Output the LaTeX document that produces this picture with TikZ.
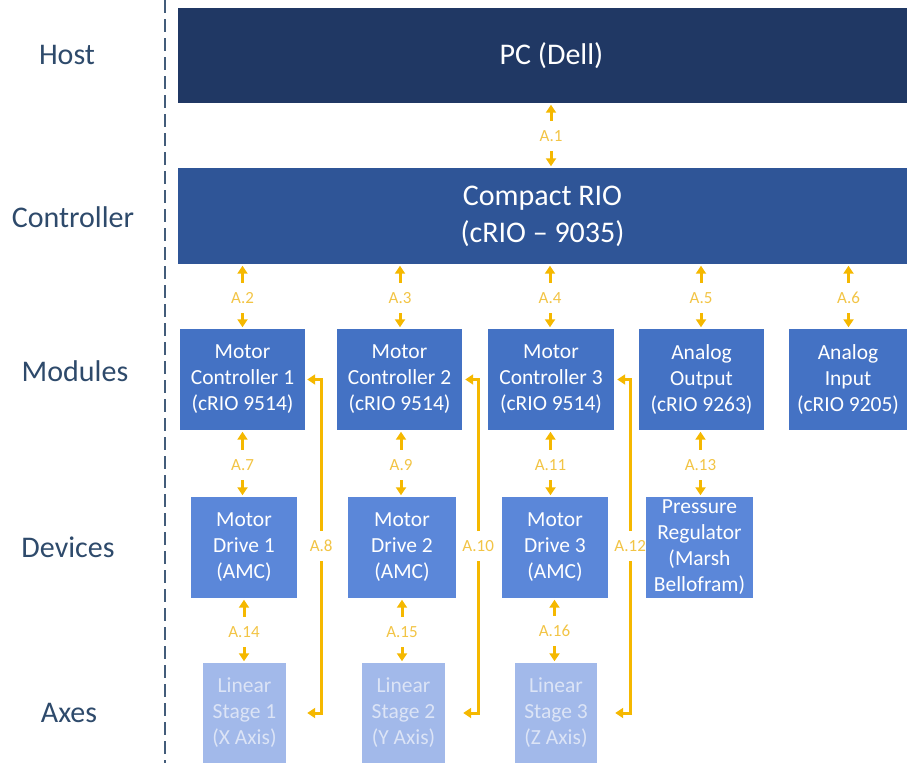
\documentclass[tikz,border=0pt]{standalone}
\usepackage{fontspec}
\setmainfont{Carlito}
\usetikzlibrary{positioning, arrows.meta}
\usepackage{xcolor}
\definecolor{hostblue}{HTML}{203864}
\definecolor{ctrlblue}{HTML}{2F5597}
\definecolor{modblue}{HTML}{4472C4}
\definecolor{devblue}{HTML}{5B87D9}
\definecolor{axisblue}{HTML}{A2B9EA}
\definecolor{axistext}{HTML}{DCE4F6}
\definecolor{layertext}{HTML}{2E4A6B}
\definecolor{linkgold}{HTML}{F5B800}
\definecolor{linklabel}{HTML}{F2C445}
\tikzset{box/.style={rectangle, fill=#1, text=white, align=center, inner sep=0pt},
         layer/.style={text=layertext, font=\fontsize{30}{34}\selectfont},
         lbl/.style={text=linklabel, font=\fontsize{17}{19}\selectfont, inner sep=0pt, minimum height=30pt},
         link/.style={draw=linkgold, line width=3pt, -{Triangle[length=8pt,width=10pt]}, shorten >=1.5pt},
         bus/.style={draw=linkgold, line width=3pt, {Triangle[length=8pt,width=10pt]}-{Triangle[length=8pt,width=10pt]}}}
\newcommand{\bigtxt}{\fontsize{30}{37}\selectfont}
\newcommand{\boxtxt}{\fontsize{21.5}{26}\selectfont}

\begin{document}
\begin{tikzpicture}[x=1pt, y=-1pt]
        \useasboundingbox (0,0) rectangle (907,763);
        % Layers
        \node[layer] (host) at (67,55) {Host};
        \node[layer] (controller) at (73,217) {Controller};
        \node[layer] (modules) at (75,371) {Modules};
        \node[layer] (devices) at (68,547) {Devices};
        \node[layer] (axes) at (69,713) {Axes};
        \coordinate (divtop) at (165,0);
        \coordinate (divbot) at (165,763);
        \draw[layertext!90, line width=1.8pt, dash pattern=on 13pt off 6pt] (divtop) -- (divbot);

        % Nodes
        \node[box=hostblue, minimum width=747pt, minimum height=95pt, font=\bigtxt] (pc) at (551.5,55.5) {PC (Dell)};
        \node[box=ctrlblue, minimum width=729pt, minimum height=96pt, font=\bigtxt] (crio) at (542.5,216) {Compact RIO\\(cRIO -- 9035)};

        \node[box=modblue, minimum width=125pt, minimum height=101pt, font=\boxtxt] (mc1) at (242.5,379.5) {Motor\\Controller 1\\(cRIO 9514)};
        \node[box=modblue, minimum width=125pt, minimum height=101pt, font=\boxtxt] (mc2) at (399.5,379.5) {Motor\\Controller 2\\(cRIO 9514)};
        \node[box=modblue, minimum width=126pt, minimum height=101pt, font=\boxtxt] (mc3) at (551,379.5) {Motor\\Controller 3\\(cRIO 9514)};
        \node[box=modblue, minimum width=125pt, minimum height=101pt, font=\boxtxt] (ao) at (701.5,379.5) {Analog\\Output\\(cRIO 9263)};
        \node[box=modblue, minimum width=118pt, minimum height=101pt, font=\boxtxt] (ai) at (848,379.5) {Analog\\Input\\(cRIO 9205)};

        \node[box=devblue, minimum width=106pt, minimum height=101pt, font=\boxtxt] (md1) at (244,547.5) {Motor\\Drive 1\\(AMC)};
        \node[box=devblue, minimum width=108pt, minimum height=101pt, font=\boxtxt] (md2) at (402,547.5) {Motor\\Drive 2\\(AMC)};
        \node[box=devblue, minimum width=106pt, minimum height=101pt, font=\boxtxt] (md3) at (555,547.5) {Motor\\Drive 3\\(AMC)};
        \node[box=devblue, minimum width=107pt, minimum height=101pt, font=\boxtxt] (pr) at (699.5,547.5) {Pressure\\Regulator\\(Marsh\\Bellofram)};

        \node[box=axisblue, text=axistext, minimum width=83pt, minimum height=100pt, font=\boxtxt] (ls1) at (244.5,713) {Linear\\Stage 1\\(X Axis)};
        \node[box=axisblue, text=axistext, minimum width=83pt, minimum height=100pt, font=\boxtxt] (ls2) at (403.5,713) {Linear\\Stage 2\\(Y Axis)};
        \node[box=axisblue, text=axistext, minimum width=82pt, minimum height=100pt, font=\boxtxt] (ls3) at (556,713) {Linear\\Stage 3\\(Z Axis)};

        % Link labels
        \node[lbl] (a1) at (551,136) {A.1};
        \node[lbl] (a2) at (242.5,298) {A.2};
        \node[lbl] (a3) at (400,298) {A.3};
        \node[lbl] (a4) at (550,298) {A.4};
        \node[lbl] (a5) at (701,298) {A.5};
        \node[lbl] (a6) at (848.5,298) {A.6};
        \node[lbl] (a7) at (242.5,465) {A.7};
        \node[lbl] (a9) at (401,465) {A.9};
        \node[lbl] (a11) at (550.5,465) {A.11};
        \node[lbl] (a13) at (700.5,465) {A.13};
        \node[lbl] (a14) at (244,632) {A.14};
        \node[lbl] (a15) at (402,632) {A.15};
        \node[lbl] (a16) at (554.5,631) {A.16};

        % Edges
        \draw[link] (a1) -- (a1 |- pc.south);
        \draw[link] (a1) -- (a1 |- crio.north);
        \draw[link] (a2) -- (a2 |- crio.south);
        \draw[link] (a2) -- (a2 |- mc1.north);
        \draw[link] (a3) -- (a3 |- crio.south);
        \draw[link] (a3) -- (a3 |- mc2.north);
        \draw[link] (a4) -- (a4 |- crio.south);
        \draw[link] (a4) -- (a4 |- mc3.north);
        \draw[link] (a5) -- (a5 |- crio.south);
        \draw[link] (a5) -- (a5 |- ao.north);
        \draw[link] (a6) -- (a6 |- crio.south);
        \draw[link] (a6) -- (a6 |- ai.north);
        \draw[link] (a7) -- (a7 |- mc1.south);
        \draw[link] (a7) -- (a7 |- md1.north);
        \draw[link] (a9) -- (a9 |- mc2.south);
        \draw[link] (a9) -- (a9 |- md2.north);
        \draw[link] (a11) -- (a11 |- mc3.south);
        \draw[link] (a11) -- (a11 |- md3.north);
        \draw[link] (a13) -- (a13 |- ao.south);
        \draw[link] (a13) -- (a13 |- pr.north);
        \draw[link] (a14) -- (a14 |- md1.south);
        \draw[link] (a14) -- (a14 |- ls1.north);
        \draw[link] (a15) -- (a15 |- md2.south);
        \draw[link] (a15) -- (a15 |- ls2.north);
        \draw[link] (a16) -- (a16 |- md3.south);
        \draw[link] (a16) -- (a16 |- ls3.north);

        % Controller to stage
        \draw[bus, shorten <=2pt, shorten >=21pt] (mc1.east) -- ++(16,0) |- node[lbl, pos=0.25, fill=white] (a8) {A.8} (ls1.east);
        \draw[bus, shorten <=3pt, shorten >=18pt] (mc2.east) -- ++(16,0) |- node[lbl, pos=0.25, fill=white] (a10) {A.10} (ls2.east);
        \draw[bus, shorten <=3pt, shorten >=18pt] (mc3.east) -- ++(16,0) |- node[lbl, pos=0.25, fill=white] (a12) {A.12} (ls3.east);
    \end{tikzpicture}
\end{document}
